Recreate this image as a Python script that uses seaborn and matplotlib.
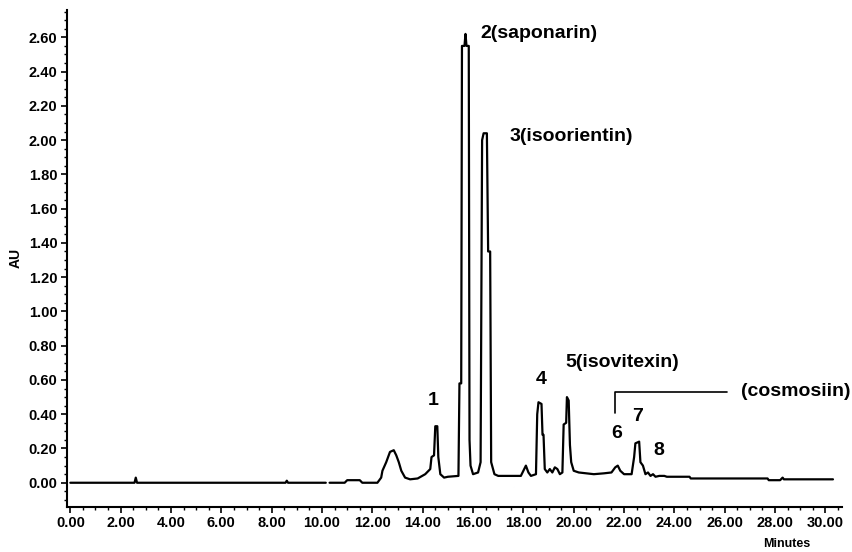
import matplotlib
matplotlib.use("Agg")
import matplotlib.pyplot as plt
from matplotlib.ticker import MultipleLocator, FormatStrFormatter
import pandas as pd
import seaborn as sns

# chromatogram trace (minutes, AU); seg splits the small gap near 10.2 min
minutes = [0.0, 2.55, 2.6, 2.65, 8.55, 8.6, 8.65, 10.15,
           10.3, 10.9, 11.0, 11.5, 11.6, 12.2, 12.35, 12.4, 12.55, 12.7, 12.85, 12.95,
           13.05, 13.15, 13.3, 13.5, 13.8, 14.1, 14.3, 14.35, 14.45, 14.5, 14.58, 14.62,
           14.7, 14.85, 15.0, 15.42, 15.46, 15.53, 15.56, 15.66, 15.7, 15.74, 15.83, 15.86,
           15.9, 16.0, 16.2, 16.3, 16.36, 16.42, 16.55, 16.6, 16.68, 16.72, 16.85, 17.0,
           17.9, 18.0, 18.1, 18.2, 18.3, 18.5, 18.55, 18.6, 18.72, 18.76, 18.8, 18.85,
           18.95, 19.05, 19.15, 19.25, 19.35, 19.45, 19.55, 19.6, 19.7, 19.73, 19.8, 19.85,
           19.9, 20.0, 20.2, 20.5, 20.8, 21.2, 21.5, 21.65, 21.75, 21.85, 22.0, 22.3,
           22.4, 22.45, 22.6, 22.65, 22.75, 22.85, 22.95, 23.05, 23.15, 23.25, 23.4, 23.6,
           23.7, 24.6, 24.65, 27.7, 27.75, 28.2, 28.3, 28.35, 30.3]
absorbance = [0.0, 0.0, 0.03, 0.0, 0.0, 0.012, 0.0, 0.0,
              0.0, 0.0, 0.015, 0.015, 0.0, 0.0, 0.03, 0.07, 0.12, 0.18, 0.19, 0.16,
              0.12, 0.07, 0.03, 0.02, 0.025, 0.05, 0.08, 0.15, 0.16, 0.33, 0.33, 0.15,
              0.05, 0.03, 0.035, 0.04, 0.58, 0.58, 2.55, 2.55, 2.62, 2.55, 2.55, 0.25,
              0.1, 0.05, 0.06, 0.12, 2.0, 2.04, 2.04, 1.35, 1.35, 0.12, 0.05, 0.04,
              0.04, 0.07, 0.10, 0.06, 0.04, 0.05, 0.40, 0.47, 0.46, 0.28, 0.28, 0.08,
              0.06, 0.08, 0.06, 0.09, 0.08, 0.05, 0.06, 0.34, 0.35, 0.50, 0.48, 0.22,
              0.12, 0.07, 0.06, 0.055, 0.05, 0.055, 0.06, 0.09, 0.10, 0.07, 0.05, 0.05,
              0.15, 0.23, 0.24, 0.12, 0.10, 0.05, 0.06, 0.04, 0.05, 0.035, 0.04, 0.04,
              0.035, 0.035, 0.025, 0.025, 0.015, 0.015, 0.03, 0.02, 0.02]
seg = [0] * 8 + [1] * (len(minutes) - 8)

# peak annotations: text, minutes, AU, horizontal alignment
peak_labels = ["1", "2(saponarin)", "3(isoorientin)", "4", "5(isovitexin)",
               "6", "7", "8", "(cosmosiin)"]
label_x = [14.4, 16.3, 17.45, 18.7, 19.65, 21.7, 22.55, 23.4, 26.65]
label_y = [0.48, 2.62, 2.02, 0.60, 0.70, 0.29, 0.385, 0.19, 0.53]
label_ha = ["center", "left", "left", "center", "left", "center", "center", "center", "left"]

x_ticks = [2 * i for i in range(16)]
y_ticks = [0.2 * i for i in range(14)]

df = pd.DataFrame({"Minutes": minutes, "AU": absorbance, "seg": seg})

sns.set_theme(style="ticks")
plt.rcParams.update({
    "font.family": ["Liberation Sans", "DejaVu Sans"],
    "font.weight": "bold",
    "text.color": "black",
    "axes.labelcolor": "black",
    "xtick.color": "black",
    "ytick.color": "black",
})

fig = plt.figure(figsize=(8.52, 5.52), dpi=100)
ax = fig.add_axes([0.079, 0.082, 0.909, 0.9])

sns.lineplot(data=df, x="Minutes", y="AU", units="seg", estimator=None,
             color="black", lw=1.6, ax=ax)

for txt, tx, ty, ha in zip(peak_labels, label_x, label_y, label_ha):
    ax.text(tx, ty, txt, ha=ha, va="center", fontsize=14, fontweight="bold")

# bracket linking peak 6 to (cosmosiin)
ax.plot([21.65, 21.65, 26.1], [0.41, 0.53, 0.53], color="black", lw=1.2)

ax.set_xlim(-0.12, 30.65)
ax.set_ylim(-0.14, 2.76)
ax.xaxis.set_minor_locator(MultipleLocator(0.5))
ax.yaxis.set_minor_locator(MultipleLocator(0.05))
ax.set_xticks(x_ticks)
ax.set_yticks(y_ticks)
ax.xaxis.set_major_formatter(FormatStrFormatter("%.2f"))
ax.yaxis.set_major_formatter(FormatStrFormatter("%.2f"))
ax.tick_params(which="major", direction="out", length=4, width=1.2,
               labelsize=10.5, pad=3)
ax.tick_params(which="minor", direction="out", length=2.5, width=1.0)
for lab in ax.get_xticklabels() + ax.get_yticklabels():
    lab.set_fontweight("bold")

ax.set_xlabel("Minutes", fontsize=9, fontweight="bold")
ax.set_ylabel("AU", fontsize=10, fontweight="bold")
ax.xaxis.set_label_coords(0.929, -0.062)
ax.yaxis.set_label_coords(-0.058, 0.5)

sns.despine(ax=ax)
for s in ["left", "bottom"]:
    ax.spines[s].set_linewidth(1.5)
    ax.spines[s].set_color("black")

fig.savefig("out.png", dpi=100)
